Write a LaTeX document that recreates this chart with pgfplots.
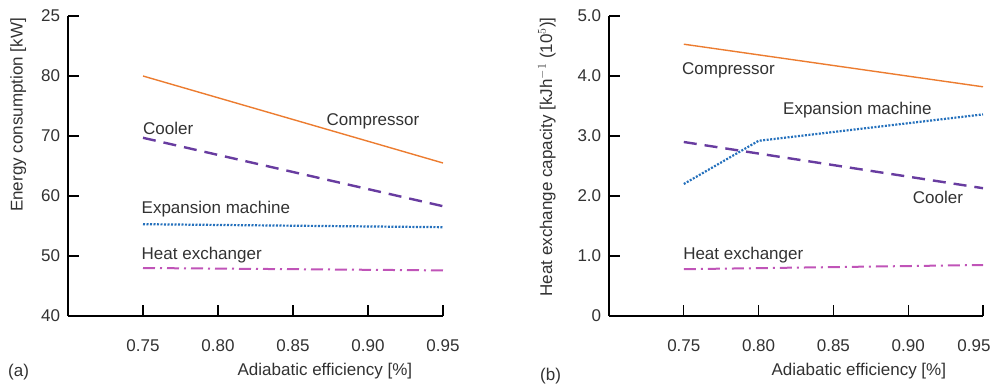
\documentclass[border=0pt]{standalone}
\usepackage{fontspec}
\setmainfont{Liberation Sans}
\usepackage{pgfplots}
\pgfplotsset{compat=1.18}
\definecolor{comp}{RGB}{236,124,48}
\definecolor{cool}{RGB}{104,60,160}
\definecolor{expa}{RGB}{36,112,188}
\definecolor{heat}{RGB}{192,84,184}
\definecolor{txt}{RGB}{50,50,50}
\begin{document}
\fontsize{17}{20}\selectfont
\begin{tikzpicture}
\useasboundingbox (0pt,0pt) rectangle (995pt,385pt);
\pgfplotsset{
  every axis/.style={
    scale only axis, height=300pt,
    xmin=0.70, xmax=0.95,
    axis x line*=bottom, axis y line*=left,
    axis line style={line width=1.3pt, black},
    tick style={line width=1.3pt, black},
    major tick length=11pt, tick align=inside,
    xtick={0.75,0.80,0.85,0.90,0.95},
    tick label style={font=\fontsize{17}{20}\selectfont, text=txt},
    /pgf/number format/assume math mode=true,
    label style={font=\fontsize{17}{20}\selectfont, text=txt},
    xticklabel style={yshift=-18pt},
    yticklabel style={xshift=-2pt},
    clip=false,
  },
}
% (a)
\begin{axis}[at={(68pt,69pt)}, anchor=south west, width=375pt,
  ymin=40, ymax=90, ytick={40,50,60,70,80,90},
  yticklabels={40,50,60,70,80,25},
  xticklabels={0.75,0.80,0.85,0.90,0.95},
  xlabel={Adiabatic efficiency [\%]},
  xlabel style={at={(axis description cs:0.685,-0.183)}, anchor=center},
  ylabel={Energy consumption [kW]},
  ylabel style={at={(axis description cs:-0.133,0.67)}, anchor=center, rotate=0},
]
\addplot[comp, line width=1.4pt] coordinates {(0.75,80.0) (0.95,65.5)};
\addplot[cool, line width=2.4pt, dash pattern=on 13pt off 8pt] coordinates {(0.75,69.7) (0.95,58.3)};
\addplot[expa, line width=2.2pt, dash pattern=on 2pt off 1.5pt] coordinates {(0.75,55.3) (0.95,54.8)};
\addplot[heat, line width=2pt, dash pattern=on 12pt off 5pt on 2pt off 5pt] coordinates {(0.75,48.0) (0.95,47.6)};
\node[txt, anchor=center] at (axis cs:0.9033,72.5) {Compressor};
\node[txt, anchor=west, inner sep=0pt] at (axis cs:0.75,71.2) {Cooler};
\node[txt, anchor=west, inner sep=0pt] at (axis cs:0.749,57.8) {Expansion machine};
\node[txt, anchor=west, inner sep=0pt] at (axis cs:0.749,50.2) {Heat exchanger};
\end{axis}
\node[txt, anchor=west, inner sep=0pt] at (8pt,13pt) {(a)};
% (b)
\begin{axis}[at={(609pt,69pt)}, anchor=south west, width=374pt,
  ymin=0, ymax=5, ytick={0,1,2,3,4,5},
  yticklabels={0,1.0,2.0,3.0,4.0,5.0},
  xticklabels={0.75,0.80,0.85,0.90,\hspace*{-18pt}0.95},
  xlabel={Adiabatic efficiency [\%]},
  xlabel style={at={(axis description cs:0.668,-0.183)}, anchor=center},
  ylabel={Heat exchange capacity [kJh$^{-1}$ (10$^{5}$)]},
  ylabel style={at={(axis description cs:-0.166,0.53)}, anchor=center, rotate=0},
]
\addplot[comp, line width=1.4pt] coordinates {(0.75,4.53) (0.95,3.82)};
\addplot[expa, line width=2.2pt, dash pattern=on 2pt off 1.5pt] coordinates {(0.75,2.20) (0.80,2.92) (0.95,3.36)};
\addplot[cool, line width=2.4pt, dash pattern=on 13pt off 8pt] coordinates {(0.75,2.90) (0.95,2.13)};
\addplot[heat, line width=2pt, dash pattern=on 12pt off 5pt on 2pt off 5pt] coordinates {(0.75,0.78) (0.95,0.85)};
\node[txt, anchor=west, inner sep=0pt] at (axis cs:0.7488,4.10) {Compressor};
\node[txt, anchor=west, inner sep=0pt] at (axis cs:0.8163,3.43) {Expansion machine};
\node[txt, anchor=center] at (axis cs:0.9199,1.97) {Cooler};
\node[txt, anchor=west, inner sep=0pt] at (axis cs:0.7495,1.02) {Heat exchanger};
\end{axis}
\node[txt, anchor=west, inner sep=0pt] at (540pt,9pt) {(b)};
\end{tikzpicture}
\end{document}
